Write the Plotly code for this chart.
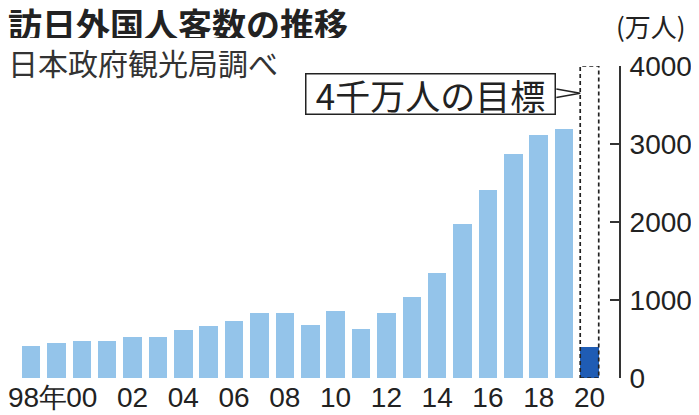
import plotly.graph_objects as go

years = list(range(1998, 2021))
visitors = [411, 444, 476, 477, 524, 521, 614, 673, 733, 835, 835, 679,
            861, 622, 836, 1036, 1341, 1974, 2404, 2869, 3119, 3188, 400]
target_year = 2020
target_value = 4000
tick_years = [1998, 2000, 2002, 2004, 2006, 2008, 2010, 2012, 2014, 2016, 2018, 2020]
tick_text = ["98年", "00", "02", "04", "06", "08", "10", "12", "14", "16", "18", "20"]
y_ticks = [0, 1000, 2000, 3000, 4000]

LIGHT = "#94c4ea"
DARK = "#1f5cb4"
bar_w = 0.73
colors = [DARK if y == target_year else LIGHT for y in years]

JP = "Noto Sans CJK JP"
NUM = "Liberation Sans, Arial, sans-serif"

# figure is placed by the page with an 8px body margin
W, H = 691, 407
PL, PR, PT, PB = 0, 611, 58, 370  # plot area in figure pixels


def px(x):
    return (x - PL) / (PR - PL)


def py(y):
    return (PB - y) / (PB - PT)


fig = go.Figure()
fig.add_trace(go.Bar(x=years, y=visitors, marker=dict(color=colors, line=dict(width=0)),
                     width=bar_w, hoverinfo="x+y"))

# dashed target outline
fig.add_shape(type="rect", xref="x", yref="y",
              x0=target_year - bar_w / 2, x1=target_year + bar_w / 2,
              y0=0, y1=target_value,
              line=dict(color="#222", width=1.7, dash="4px,3px"), layer="above")

# target callout box
box_right = target_year - bar_w / 2 - 0.94
fig.add_annotation(xref="x", yref="y", x=box_right, y=3641, xanchor="right", yanchor="middle",
                   text="4千万人の目標", showarrow=False,
                   font=dict(family=JP, size=35, color="#222"),
                   bordercolor="#222", borderwidth=1.5, bgcolor="white",
                   width=248, height=39, borderpad=0)
fig.add_shape(type="path", xref="x", yref="y",
              path=f"M {box_right},3705 L {target_year - bar_w / 2},3650 L {box_right},3595",
              line=dict(color="#222", width=1.5), layer="above")

# titles
fig.add_annotation(xref="paper", yref="paper", x=px(-2), y=py(15), xanchor="left", yanchor="middle",
                   text="<b>訪日外国人客数の推移</b>", showarrow=False, height=30,
                   font=dict(family=JP, size=34, color="#222"))
fig.add_annotation(xref="paper", yref="paper", x=px(-2), y=py(54),
                   xanchor="left", yanchor="middle", height=34,
                   text="日本政府観光局調べ", showarrow=False,
                   font=dict(family=JP, size=30, color="#333"))
fig.add_annotation(xref="paper", yref="paper", x=px(643), y=py(17),
                   xanchor="center", yanchor="middle",
                   text="(万人)", showarrow=False,
                   font=dict(family=JP, size=26, color="#222"))

# first year label sits at the left edge, drawn as annotation so it is not dropped
fig.add_annotation(xref="x", yref="paper", x=tick_years[0], y=py(389), xanchor="center",
                   yanchor="middle", xshift=6, text=tick_text[0], showarrow=False,
                   font=dict(family=NUM, size=28, color="#222"))

fig.update_layout(
    width=W, height=H,
    margin=dict(l=PL, r=W - PR, t=PT, b=H - PB),
    paper_bgcolor="white", plot_bgcolor="white",
    showlegend=False,
    bargap=0,
    xaxis=dict(range=[1997.094, 2021.163], tickmode="array", tickvals=tick_years[1:],
               ticktext=tick_text[1:],
               showgrid=False, zeroline=False, showline=False, ticks="",
               tickfont=dict(family=NUM, size=28, color="#222"), ticklabelstandoff=0),
    yaxis=dict(range=[0, 4000], side="right", tickmode="array", tickvals=y_ticks,
               showgrid=False, zeroline=False, showline=True, linecolor="#333", linewidth=2,
               ticks="inside", ticklen=9, tickwidth=1.5, tickcolor="#333",
               tickfont=dict(family=NUM, size=28, color="#222"), ticklabelstandoff=3),
)

fig.write_html("out.html")
